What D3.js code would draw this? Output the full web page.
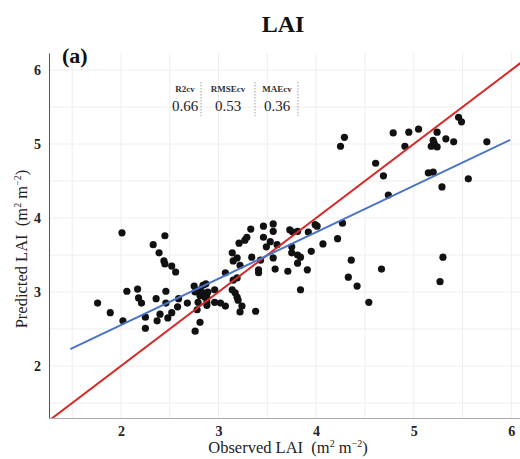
<!DOCTYPE html>
<html>
<head>
<meta charset="utf-8">
<script src="https://cdn.jsdelivr.net/npm/d3@7"></script>
<style>
  body { margin: 0; background: #fff; }
  svg { display: block; font-family: "Liberation Serif", "Times New Roman", serif; }
</style>
</head>
<body>
<svg id="chart" width="520" height="459"></svg>
<script>
// ---- data ----
const observed = [
  2.01,2.45,2.33,2.39,2.44,2.45,2.52,2.56,2.06,2.17,2.46,2.18,2.21,2.36,1.76,2.46,1.89,2.02,2.25,2.40,
  2.52,2.48,2.37,2.25,2.58,2.68,2.59,2.75,2.84,2.76,2.81,2.86,2.79,2.88,2.78,2.81,2.76,2.89,
  3.33,3.46,3.56,3.56,3.46,3.29,3.27,3.21,3.53,3.49,3.60,3.73,3.76,3.81,3.99,4.01,3.92,4.07,3.75,
  3.14,3.15,3.19,3.22,3.34,3.43,3.56,3.75,3.81,3.84,3.95,3.81,3.58,3.71,3.91,3.41,3.41,3.07,3.15,3.19,
  2.87,2.81,2.96,3.14,3.17,3.19,3.20,2.84,2.88,2.96,3.02,3.07,2.88,3.24,3.22,3.38,3.84,
  4.27,4.22,4.36,4.67,4.33,4.42,4.54,4.29,4.25,4.79,4.61,4.69,4.74,4.95,5.05,4.91,5.24,5.46,5.49,
  5.20,5.18,5.24,5.21,5.33,5.41,5.75,5.15,5.20,5.56,5.29,5.30,5.27
];
const predicted = [
  3.80,3.76,3.64,3.53,3.42,3.38,3.35,3.27,3.01,3.04,3.01,2.92,2.85,2.91,2.85,2.85,2.72,2.61,2.66,2.70,
  2.72,2.65,2.61,2.51,2.80,2.85,2.91,3.08,3.09,3.00,2.95,2.93,2.86,2.86,2.76,2.59,2.47,3.00,
  3.85,3.89,3.92,3.82,3.74,3.74,3.70,3.66,3.68,3.61,3.64,3.84,3.81,3.82,3.91,3.89,3.81,3.65,3.61,
  3.53,3.42,3.46,3.36,3.47,3.43,3.46,3.53,3.50,3.47,3.55,3.39,3.31,3.28,3.30,3.30,3.26,3.26,3.16,3.19,
  3.11,3.03,3.03,3.03,2.99,2.93,2.89,2.99,2.93,2.86,2.85,2.81,2.82,2.81,2.73,2.74,3.03,
  3.93,3.72,3.43,3.31,3.20,3.08,2.86,5.09,4.97,5.15,4.74,4.57,4.31,5.16,5.20,4.97,5.16,5.36,5.30,
  5.05,4.97,4.96,5.01,5.07,5.03,5.03,4.61,4.62,4.53,4.42,3.47,3.14
];
const xTicks = [2, 3, 4, 5, 6];
const yTicks = [2, 3, 4, 5, 6];
const gridTicks = [1.5, 2, 2.5, 3, 3.5, 4, 4.5, 5, 5.5, 6];
const fitX = [1.48, 5.99];
const fitIntercept = 1.30;
const fitSlope = 0.627;
const statNames = ["R2cv", "RMSEcv", "MAEcv"];
const statValues = ["0.66", "0.53", "0.36"];

// ---- layout ----
const svg = d3.select("#chart");
const mLeft = 49, mRight = 521, mTop = 53, mBottom = 418;
const x = d3.scaleLinear().domain([1.262, 6.1]).range([mLeft, mRight]);
const y = d3.scaleLinear().domain([1.297, 6.23]).range([mBottom, mTop]);

svg.append("defs").append("clipPath").attr("id", "clip")
  .append("rect").attr("x", mLeft).attr("y", mTop).attr("width", mRight - mLeft).attr("height", mBottom - mTop);

// grid
const grid = svg.append("g").attr("stroke", "#eeeeee").attr("stroke-width", 1);
gridTicks.forEach(t => {
  grid.append("line").attr("x1", x(t)).attr("x2", x(t)).attr("y1", mTop).attr("y2", mBottom);
  grid.append("line").attr("x1", mLeft).attr("x2", mRight).attr("y1", y(t)).attr("y2", y(t));
});

// axes
const xAxis = d3.axisBottom(x).tickValues(xTicks).tickSize(0).tickPadding(8).tickFormat(d3.format("d"));
const yAxis = d3.axisLeft(y).tickValues(yTicks).tickSize(0).tickPadding(8).tickFormat(d3.format("d"));
const gx = svg.append("g").attr("transform", `translate(0,${mBottom})`).call(xAxis);
gx.select(".domain").attr("stroke", "#aaaaaa");
gx.selectAll("text").attr("font-size", 14).attr("font-weight", "bold").attr("fill", "#222")
  .attr("font-family", "Liberation Serif, serif");
const gy = svg.append("g").attr("transform", `translate(${mLeft},0)`).call(yAxis);
gy.select(".domain").attr("stroke", "#555555");
gy.selectAll("text").attr("font-size", 14).attr("font-weight", "bold").attr("fill", "#222")
  .attr("font-family", "Liberation Serif, serif");

const plot = svg.append("g").attr("clip-path", "url(#clip)");

// points
plot.selectAll("circle").data(observed.map((o, i) => [o, predicted[i]])).enter()
  .append("circle")
  .attr("cx", d => x(d[0])).attr("cy", d => y(d[1])).attr("r", 3.6)
  .attr("fill", "#111");

// 1:1 line
plot.append("line")
  .attr("x1", x(1.262)).attr("y1", y(1.262)).attr("x2", x(6.3)).attr("y2", y(6.3))
  .attr("stroke", "#d42a2a").attr("stroke-width", 2);

// fit line
plot.append("line")
  .attr("x1", x(fitX[0])).attr("y1", y(fitIntercept + fitSlope * fitX[0]))
  .attr("x2", x(fitX[1])).attr("y2", y(fitIntercept + fitSlope * fitX[1]))
  .attr("stroke", "#4a74c9").attr("stroke-width", 2);

// title
svg.append("text").attr("x", 283).attr("y", 32).attr("text-anchor", "middle")
  .attr("font-size", 24).attr("font-weight", "bold").attr("fill", "#111").text("LAI");

// panel label
svg.append("text").attr("x", 62).attr("y", 63)
  .attr("font-size", 22).attr("font-weight", "bold").attr("fill", "#111").text("(a)");

// stats table
const colCenters = [185, 228, 277];
const dividers = [201, 255, 298];
dividers.forEach(dx => {
  svg.append("line").attr("x1", dx).attr("x2", dx).attr("y1", 82).attr("y2", 116)
    .attr("stroke", "#888").attr("stroke-width", 0.8).attr("stroke-dasharray", "1.5,1.5");
});
statNames.forEach((n, i) => {
  svg.append("text").attr("x", colCenters[i]).attr("y", 92).attr("text-anchor", "middle")
    .attr("font-size", 9).attr("font-weight", "bold").attr("fill", "#333").text(n);
  svg.append("text").attr("x", colCenters[i]).attr("y", 111).attr("text-anchor", "middle")
    .attr("font-size", 15).attr("fill", "#222").text(statValues[i]);
});

// axis titles
function unitTitle(sel, label) {
  sel.append("tspan").text(label + "\u00a0\u00a0(m");
  sel.append("tspan").attr("font-size", 10).attr("dy", -6).text("2");
  sel.append("tspan").attr("dy", 6).text("\u00a0m");
  sel.append("tspan").attr("font-size", 10).attr("dy", -6).text("\u22122");
  sel.append("tspan").attr("dy", 6).text(")");
}
const xt = svg.append("text").attr("x", 288).attr("y", 453).attr("text-anchor", "middle")
  .attr("font-size", 16.5).attr("fill", "#222");
unitTitle(xt, "Observed LAI");

const yt = svg.append("text").attr("transform", "translate(27,249) rotate(-90)")
  .attr("text-anchor", "middle").attr("font-size", 16.5).attr("fill", "#222");
unitTitle(yt, "Predicted LAI");
</script>
</body>
</html>
